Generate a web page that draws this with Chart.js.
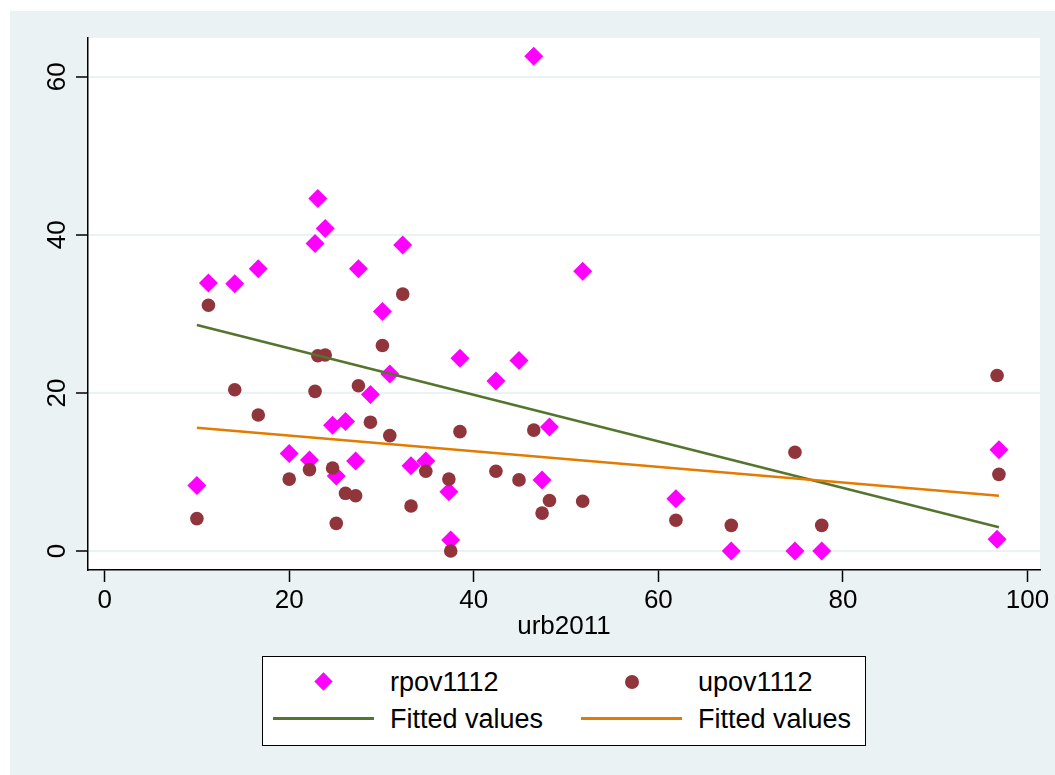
<!DOCTYPE html>
<html>
<head>
<meta charset="utf-8">
<script src="https://cdn.jsdelivr.net/npm/chart.js@4/dist/chart.umd.min.js"></script>
<style>
  body { margin: 0; background: #fff; }
  #wrap { position: relative; width: 1055px; height: 775px; }
  #c { position: absolute; left: 0; top: 0; }
  .legend {
    position: absolute; left: 262px; top: 656px; width: 602px; height: 88px;
    background: #fff; border: 1.5px solid #000;
    font-family: 'Liberation Sans', Arial, sans-serif; font-size: 27px; color: #000;
  }
  .legend .txt { position: absolute; height: 32px; line-height: 32px; white-space: nowrap; }
  .legend .dia { position: absolute; width: 13px; height: 13px; background: #FF00FF; transform: rotate(45deg); }
  .legend .dot { position: absolute; width: 14px; height: 14px; border-radius: 50%; background: #90353B; }
  .legend .ln { position: absolute; height: 3px; }
</style>
</head>
<body>
<div id="wrap">
  <canvas id="c" width="1055" height="775"></canvas>
  <div class="legend">
    <div class="dia" style="left:54px; top:18px;"></div>
    <div class="txt" style="left:127px; top:9px;">rpov1112</div>
    <div class="dot" style="left:362px; top:18px;"></div>
    <div class="txt" style="left:435px; top:9px;">upov1112</div>
    <div class="ln" style="left:10px; top:60px; width:101px; background:#55752F;"></div>
    <div class="txt" style="left:127px; top:46px;">Fitted values</div>
    <div class="ln" style="left:318px; top:60px; width:101px; background:#E37B00;"></div>
    <div class="txt" style="left:435px; top:46px;">Fitted values</div>
  </div>
</div>
<script>
// urbanisation rate per observation, shared by both series
const urb = [10.0, 11.25, 14.1, 16.65, 20.0, 22.2, 22.8, 23.1, 23.9, 24.7, 25.1, 26.1, 27.2, 27.5, 28.8,
  30.1, 30.9, 32.3, 33.2, 34.8, 37.3, 37.5, 38.5, 42.4, 44.9, 46.5, 47.4, 48.2, 51.8, 61.9,
  67.9, 74.8, 77.7, 96.7, 96.9];
const rpov = [8.3, 33.9, 33.8, 35.7, 12.35, 11.5, 38.9, 44.6, 40.8, 15.9, 9.5, 16.4, 11.4, 35.7, 19.8,
  30.3, 22.4, 38.7, 10.8, 11.4, 7.5, 1.4, 24.4, 21.5, 24.1, 62.6, 9.0, 15.7, 35.4, 6.6,
  0, 0, 0, 1.5, 12.8];
const upov = [4.1, 31.1, 20.4, 17.2, 9.1, 10.3, 20.2, 24.7, 24.8, 10.5, 3.5, 7.3, 7.0, 20.9, 16.3,
  26.0, 14.6, 32.5, 5.7, 10.1, 9.1, 0, 15.1, 10.1, 9.0, 15.3, 4.8, 6.4, 6.3, 3.9,
  3.25, 12.5, 3.25, 22.2, 9.7];

// fitted line end points
const fitX = [10.0, 96.9];
const fitRpov = [28.6, 3.0];
const fitUpov = [15.6, 7.0];

const xTicks = [0, 20, 40, 60, 80, 100];
const yTicks = [0, 20, 40, 60];

const FONT = "'Liberation Sans', Arial, sans-serif";
const PANEL = '#EAF2F3';

const pts = (xs, ys) => xs.map((x, i) => ({ x: x, y: ys[i] }));

const backdrop = {
  id: 'backdrop',
  beforeDraw(chart) {
    const ctx = chart.ctx;
    const a = chart.chartArea;
    ctx.save();
    ctx.fillStyle = PANEL;
    ctx.fillRect(10, 11, chart.width - 10, chart.height - 11);
    ctx.fillStyle = '#fff';
    ctx.fillRect(a.left, a.top, a.right - a.left, a.bottom - a.top);
    ctx.restore();
  }
};

// vertical y labels, read bottom to top
const yLabels = {
  id: 'yLabels',
  afterDraw(chart) {
    const ctx = chart.ctx;
    const s = chart.scales.y;
    ctx.save();
    ctx.font = '26px ' + FONT;
    ctx.fillStyle = '#000';
    ctx.textAlign = 'center';
    ctx.textBaseline = 'middle';
    s.ticks.forEach(t => {
      ctx.save();
      ctx.translate(57, s.getPixelForValue(t.value));
      ctx.rotate(-Math.PI / 2);
      ctx.fillText(String(t.value), 0, 1);
      ctx.restore();
    });
    ctx.restore();
  }
};

new Chart(document.getElementById('c'), {
  type: 'scatter',
  data: {
    datasets: [
      {
        label: 'rpov1112', data: pts(urb, rpov), order: 3,
        pointStyle: 'rectRot', pointRadius: 9.5, pointHoverRadius: 9.5,
        backgroundColor: '#FF00FF', borderWidth: 0
      },
      {
        label: 'upov1112', data: pts(urb, upov), order: 2,
        pointStyle: 'circle', pointRadius: 6.8, pointHoverRadius: 6.8,
        backgroundColor: '#90353B', borderWidth: 0
      },
      {
        label: 'Fitted values', type: 'line', data: pts(fitX, fitRpov), order: 1,
        borderColor: '#55752F', borderWidth: 2.5, pointRadius: 0, fill: false
      },
      {
        label: 'Fitted values', type: 'line', data: pts(fitX, fitUpov), order: 0,
        borderColor: '#E37B00', borderWidth: 2.5, pointRadius: 0, fill: false
      }
    ]
  },
  options: {
    responsive: false,
    animation: false,
    events: [],
    layout: { padding: { left: 10, top: 38, right: 15, bottom: 133 } },
    plugins: { legend: { display: false }, tooltip: { enabled: false } },
    scales: {
      x: {
        type: 'linear', min: -1.8, max: 101.35,
        afterBuildTicks: s => { s.ticks = xTicks.map(v => ({ value: v })); },
        afterFit: s => { s.height = 72; },
        grid: { drawOnChartArea: false, drawTicks: true, tickLength: 12, tickColor: '#000', tickWidth: 1.5 },
        border: { display: true, color: '#000', width: 1.5 },
        ticks: { color: '#000', font: { family: FONT, size: 26 }, padding: 3, maxRotation: 0 },
        title: { display: true, text: 'urb2011', color: '#000', font: { family: FONT, size: 26 }, padding: 0 }
      },
      y: {
        type: 'linear', min: -2.4, max: 64.9,
        afterBuildTicks: s => { s.ticks = yTicks.map(v => ({ value: v })); },
        afterFit: s => { s.width = 78; },
        grid: { color: PANEL, lineWidth: 2, drawTicks: true, tickLength: 12, tickColor: '#000', tickWidth: 1.5 },
        border: { display: true, color: '#000', width: 1.5 },
        ticks: { display: false }
      }
    }
  },
  plugins: [backdrop, yLabels]
});
</script>
</body>
</html>
